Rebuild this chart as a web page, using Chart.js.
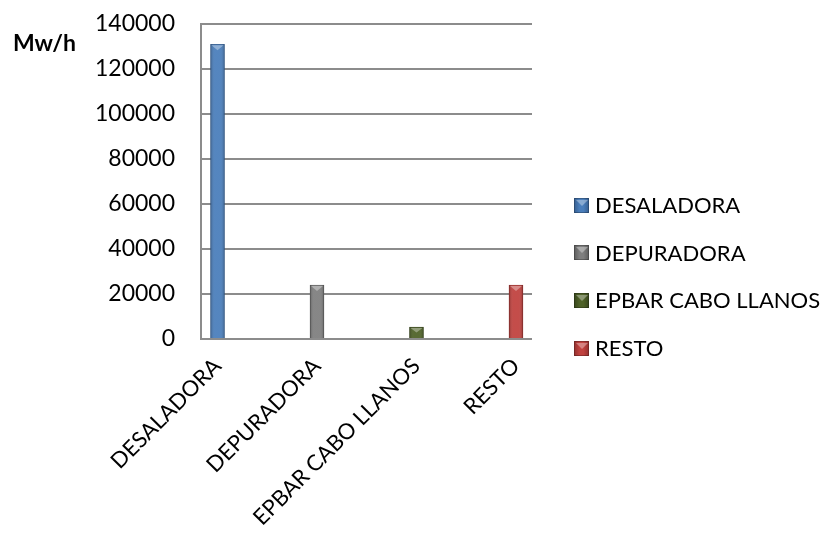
<!DOCTYPE html>
<html>
<head>
<meta charset="utf-8">
<style>
  html, body { margin: 0; padding: 0; background: #ffffff; }
  #wrap { width: 827px; height: 534px; position: relative; }
  #legend {
    position: absolute; left: 574px; top: 0; margin: 0; padding: 0; list-style: none;
    font-family: Lato, "Open Sans", sans-serif; font-size: 22px; color: #000;
  }
  #legend li {
    position: absolute; left: 0; white-space: nowrap; height: 26px; line-height: 26px;
    display: flex; align-items: center;
  }
  #legend .box {
    width: 15px; height: 15px; margin-right: 6px; box-sizing: border-box;
    border: 1px solid rgba(0,0,0,0.25); position: relative; overflow: hidden;
  }
  #legend .box::after {
    content: ''; position: absolute; left: 1px; top: 1px;
    border-left: 6px solid transparent; border-right: 6px solid transparent;
    border-top: 6px solid rgba(255,255,255,0.35);
  }
</style>
<script src="https://cdn.jsdelivr.net/npm/chart.js@4/dist/chart.umd.min.js"></script>
</head>
<body>
<div id="wrap"><canvas id="c" width="827" height="534"></canvas><ul id="legend"></ul></div>
<script>
// Energy consumption per facility (Mw/h)
const categories = ['DESALADORA', 'DEPURADORA', 'EPBAR CABO LLANOS', 'RESTO'];
const values = [131000, 24000, 5300, 24000];
const colors = ['#4A7EBB', '#7F7F7F', '#4F6228', '#C0423F'];
const edgeColors = ['#3A6497', '#626262', '#3B4A1E', '#9A3331'];
const yTicks = [0, 20000, 40000, 60000, 80000, 100000, 120000, 140000];
const unitLabel = 'Mw/h';

const FONT = 'Lato, "Open Sans", sans-serif';

// Unit caption drawn to the left of the value axis
const unitPlugin = {
  id: 'unitCaption',
  afterDraw(chart) {
    const ctx = chart.ctx;
    ctx.save();
    ctx.font = 'bold 23px ' + FONT;
    ctx.fillStyle = '#000';
    ctx.textBaseline = 'middle';
    ctx.textAlign = 'left';
    ctx.fillText(unitLabel, 13, 44);
    ctx.restore();
  }
};

// Soft shading across each column so it reads as a rounded prism
const shadePlugin = {
  id: 'columnShade',
  afterDatasetsDraw(chart) {
    const ctx = chart.ctx;
    chart.getDatasetMeta(0).data.forEach((bar) => {
      const p = bar.getProps(['x', 'y', 'base', 'width'], true);
      const l = p.x - p.width / 2, r = p.x + p.width / 2;
      const g = ctx.createLinearGradient(l, 0, r, 0);
      g.addColorStop(0, 'rgba(0,0,0,0.22)');
      g.addColorStop(0.3, 'rgba(255,255,255,0.06)');
      g.addColorStop(0.7, 'rgba(255,255,255,0.06)');
      g.addColorStop(1, 'rgba(0,0,0,0.22)');
      ctx.save();
      ctx.fillStyle = g;
      ctx.fillRect(l, p.y, p.width, p.base - p.y);
      // lighter bevel at the top of the column
      ctx.fillStyle = 'rgba(255,255,255,0.35)';
      ctx.beginPath();
      ctx.moveTo(l + 1, p.y + 1);
      ctx.lineTo(r - 1, p.y + 1);
      ctx.lineTo(p.x, p.y + Math.min(6, (p.base - p.y) / 2));
      ctx.closePath();
      ctx.fill();
      ctx.restore();
    });
  }
};

// Legend list on the right, one entry per facility
const legendPlugin = {
  id: 'sideLegend',
  afterUpdate(chart) {
    const list = document.getElementById('legend');
    list.innerHTML = '';
    const firstCenter = 205, step = 47.7;
    categories.forEach((name, i) => {
      const li = document.createElement('li');
      li.style.top = (firstCenter + i * step - 13) + 'px';
      const box = document.createElement('span');
      box.className = 'box';
      box.style.background = 'linear-gradient(90deg,' + edgeColors[i] + ' 0%,' + colors[i] + ' 35%,' + colors[i] + ' 65%,' + edgeColors[i] + ' 100%)';
      const label = document.createElement('span');
      label.textContent = name;
      li.appendChild(box);
      li.appendChild(label);
      list.appendChild(li);
    });
  }
};

new Chart(document.getElementById('c'), {
  type: 'bar',
  data: {
    datasets: [{
      label: unitLabel,
      data: categories.map((c, i) => ({ x: i, y: values[i] })),
      backgroundColor: colors,
      borderColor: edgeColors,
      borderWidth: 1,
      barThickness: 14
    }]
  },
  options: {
    responsive: false,
    animation: false,
    layout: { padding: { top: 20, left: 0, right: 295, bottom: 0 } },
    plugins: {
      tooltip: { enabled: false },
      legend: { display: false }
    },
    scales: {
      x: {
        type: 'linear',
        offset: false,
        min: -0.166,
        max: 3.161,
        grid: { display: false },
        border: { display: false },
        ticks: {
          stepSize: 1,
          includeBounds: false,
          autoSkip: false,
          maxRotation: 45,
          minRotation: 45,
          padding: 6,
          color: '#000',
          font: { family: FONT, size: 22 },
          callback: (v) => categories[v] !== undefined ? categories[v] : ''
        },
        afterFit: (scale) => {
          scale.height = 195;
          scale.paddingLeft = 0;
          scale.paddingRight = 0;
        }
      },
      y: {
        min: 0,
        max: 140000,
        afterBuildTicks: (scale) => { scale.ticks = yTicks.map(v => ({ value: v })); },
        grid: { color: '#8C8C8C', lineWidth: 2, drawTicks: false },
        border: { display: true, color: '#8C8C8C', width: 2 },
        ticks: {
          color: '#000',
          padding: 26,
          font: { family: FONT, size: 23 },
          callback: (v) => String(v)
        },
        afterFit: (scale) => {
          scale.width = 201;
          scale.paddingTop = 24;
          scale.paddingBottom = 0;
        }
      }
    }
  },
  plugins: [unitPlugin, shadePlugin, legendPlugin]
});
</script>
</body>
</html>
